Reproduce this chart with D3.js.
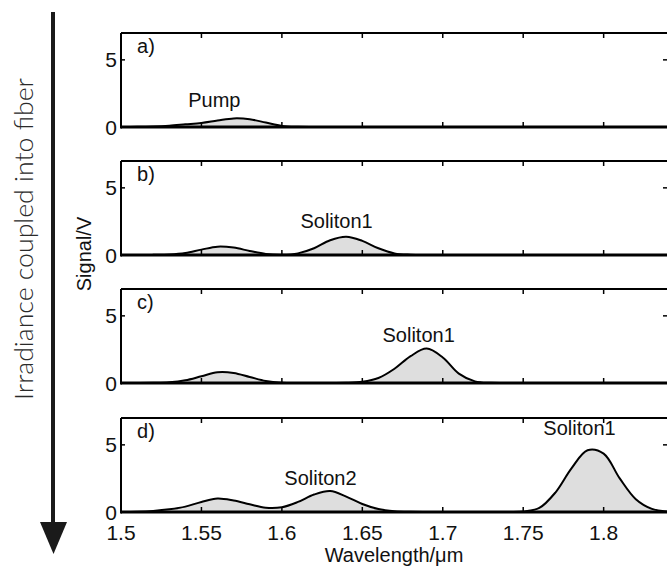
<!DOCTYPE html>
<meta charset="utf-8">
<script src="https://d3js.org/d3.v7.min.js"></script>
<style>
  body { margin: 0; background: #fff; }
  text { font-family: "Liberation Sans", Arial, sans-serif; fill: #111; }
</style>
<svg id="chart" width="667" height="570"></svg>
<script>

// wavelength samples (um)
const wavelength = [1.50, 1.51, 1.52, 1.53, 1.54, 1.55, 1.56, 1.57, 1.58, 1.59,
  1.60, 1.61, 1.62, 1.63, 1.64, 1.65, 1.66, 1.67, 1.68, 1.69,
  1.70, 1.71, 1.72, 1.73, 1.74, 1.75, 1.76, 1.77, 1.78, 1.79,
  1.80, 1.81, 1.82, 1.83, 1.84];

// signal (V)
const signalA = [0, 0.01, 0.04, 0.10, 0.20, 0.30, 0.48, 0.64, 0.58, 0.33,
  0.08, 0.01, 0, 0, 0, 0, 0, 0, 0, 0,
  0, 0, 0, 0, 0, 0, 0, 0, 0, 0,
  0, 0, 0, 0, 0];
const signalB = [0, 0, 0.01, 0.04, 0.15, 0.40, 0.62, 0.55, 0.30, 0.08,
  0.02, 0.12, 0.50, 1.10, 1.36, 1.05, 0.50, 0.12, 0.02, 0,
  0, 0, 0, 0, 0, 0, 0, 0, 0, 0,
  0, 0, 0, 0, 0];
const signalC = [0, 0, 0.01, 0.05, 0.20, 0.50, 0.80, 0.75, 0.45, 0.15,
  0.02, 0, 0, 0, 0.01, 0.09, 0.37, 1.06, 2.00, 2.56,
  1.90, 0.70, 0.12, 0.01, 0, 0, 0, 0, 0, 0,
  0, 0, 0, 0, 0];
const signalD = [0, 0.02, 0.08, 0.20, 0.40, 0.75, 1.00, 0.85, 0.57, 0.32,
  0.36, 0.75, 1.30, 1.56, 1.15, 0.60, 0.22, 0.06, 0.01, 0,
  0, 0, 0, 0, 0, 0.03, 0.30, 1.45, 3.25, 4.60,
  4.35, 2.50, 0.95, 0.23, 0.03];

const panelLetters = ["a)", "b)", "c)", "d)"];
const xTicks = [1.5, 1.55, 1.6, 1.65, 1.7, 1.75, 1.8];
const xTickLabels = ["1.5", "1.55", "1.6", "1.65", "1.7", "1.75", "1.8"];
const yTicks = [0, 5];

// peak annotations: panel index, label, wavelength, signal
const annotations = [
  [0, "Pump", 1.558, 1.5],
  [1, "Soliton1", 1.634, 2.0],
  [2, "Soliton1", 1.685, 3.05],
  [3, "Soliton2", 1.624, 2.0],
  [3, "Soliton1", 1.785, 5.75]
];

const series = [signalA, signalB, signalC, signalD];

const svg = d3.select("#chart");

const x = d3.scaleLinear().domain([1.5, 1.84]).range([121, 668]);
const panelTop = [33, 161, 289, 418];
const panelH = 94;
const curve = d3.curveCatmullRom.alpha(0.5);

series.forEach((vals, i) => {
  const top = panelTop[i];
  const y = d3.scaleLinear().domain([0, 7]).range([top + panelH, top]);
  const g = svg.append("g");
  const pts = wavelength.map((w, k) => [w, vals[k]]);

  // filled peaks
  g.append("path")
    .datum(pts)
    .attr("fill", "#dedede")
    .attr("d", d3.area().x(d => x(d[0])).y0(y(0)).y1(d => Math.min(y(0), y(d[1]))).curve(curve));

  g.append("path")
    .datum(pts)
    .attr("fill", "none")
    .attr("stroke", "#000")
    .attr("stroke-width", 2)
    .attr("d", d3.line().x(d => x(d[0])).y(d => y(d[1])).curve(curve));

  // frame
  g.append("line").attr("x1", x(1.5)).attr("x2", 668).attr("y1", top).attr("y2", top)
    .attr("stroke", "#000").attr("stroke-width", 2);
  g.append("line").attr("x1", x(1.5)).attr("x2", 668).attr("y1", y(0)).attr("y2", y(0))
    .attr("stroke", "#000").attr("stroke-width", 3);
  g.append("line").attr("x1", x(1.5)).attr("x2", x(1.5)).attr("y1", top).attr("y2", y(0) + 1.5)
    .attr("stroke", "#000").attr("stroke-width", 2);

  // inward ticks top and bottom
  g.selectAll(".tb").data(xTicks.slice(1)).join("line")
    .attr("x1", d => x(d)).attr("x2", d => x(d))
    .attr("y1", y(0)).attr("y2", y(0) - 5)
    .attr("stroke", "#000").attr("stroke-width", 1.5);
  g.selectAll(".tt").data(xTicks.slice(1)).join("line")
    .attr("x1", d => x(d)).attr("x2", d => x(d))
    .attr("y1", top).attr("y2", top + 5)
    .attr("stroke", "#000").attr("stroke-width", 1.5);

  // y ticks left and right
  g.selectAll(".yl").data(yTicks).join("line")
    .attr("x1", x(1.5)).attr("x2", x(1.5) + 4)
    .attr("y1", d => y(d)).attr("y2", d => y(d))
    .attr("stroke", "#000").attr("stroke-width", 1.5);
  g.selectAll(".yr").data(yTicks).join("line")
    .attr("x1", 668).attr("x2", 663)
    .attr("y1", d => y(d)).attr("y2", d => y(d))
    .attr("stroke", "#000").attr("stroke-width", 1.5);
  g.selectAll(".ylab").data(yTicks).join("text")
    .attr("x", 117).attr("y", d => y(d))
    .attr("dy", "0.36em")
    .attr("text-anchor", "end")
    .style("font-size", "21px")
    .text(d => d);

  g.append("text")
    .attr("x", x(1.51)).attr("y", top + 20)
    .style("font-size", "20px")
    .text(panelLetters[i]);

  annotations.filter(a => a[0] === i).forEach(a => {
    g.append("text")
      .attr("x", x(a[2])).attr("y", y(a[3]))
      .attr("text-anchor", "middle")
      .style("font-size", "20px")
      .text(a[1]);
  });

  if (i === 3) {
    g.selectAll(".xlab").data(xTicks).join("text")
      .attr("x", d => x(d)).attr("y", 540)
      .attr("text-anchor", "middle")
      .style("font-size", "21px")
      .text((d, k) => xTickLabels[k]);
  }
});

svg.append("text")
  .attr("x", 394).attr("y", 562)
  .attr("text-anchor", "middle")
  .style("font-size", "20px")
  .text("Wavelength/\u03bcm");

svg.append("text")
  .attr("transform", "translate(91,254) rotate(-90)")
  .attr("text-anchor", "middle")
  .style("font-size", "20px")
  .text("Signal/V");

// left arrow
svg.append("line")
  .attr("x1", 53).attr("x2", 53).attr("y1", 12).attr("y2", 526)
  .attr("stroke", "#1a1a1a").attr("stroke-width", 4);
svg.append("path")
  .attr("d", "M40,522 L67,522 L53.5,554 Z")
  .attr("fill", "#1a1a1a");

svg.append("text")
  .attr("transform", "translate(33,239) rotate(-90)")
  .attr("text-anchor", "middle")
  .attr("textLength", 322)
  .attr("lengthAdjust", "spacingAndGlyphs")
  .style("font-family", "Lato, 'DejaVu Sans', sans-serif")
  .style("font-weight", 300)
  .style("font-size", "25px")
  .style("fill", "#2a2a2a")
  .text("Irradiance coupled into fiber");

</script>
